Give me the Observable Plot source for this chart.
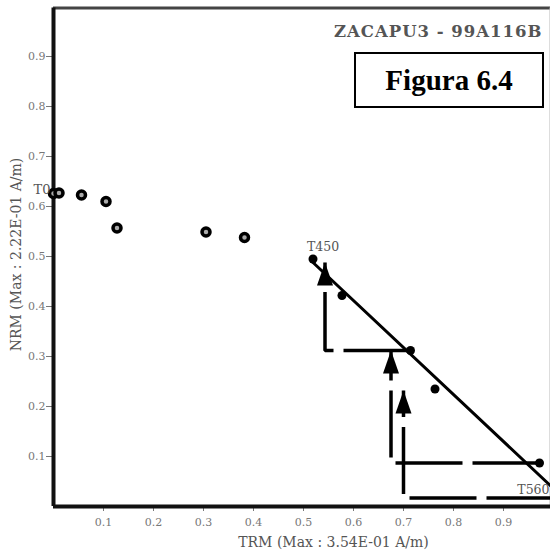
<!DOCTYPE html>
<html>
<head>
<meta charset="utf-8">
<script src="https://cdn.jsdelivr.net/npm/d3@7"></script>
<script src="https://cdn.jsdelivr.net/npm/@observablehq/plot@0.6"></script>
<style>
  html, body { margin: 0; padding: 0; background: #fff; }
  #wrap { position: relative; width: 550px; height: 554px; overflow: hidden; }
  #fig {
    position: absolute; left: 354px; top: 52px; width: 186px; height: 52px;
    border: 2px solid #000; background: #fff;
    display: flex; align-items: center; justify-content: center;
    font-family: "Liberation Serif", serif; font-weight: bold; font-size: 29px; color: #000;
  }
  .hdr text { letter-spacing: 1px; }
</style>
</head>
<body>
<div id="wrap"><div id="fig">Figura 6.4</div></div>
<script>
// Data (Arai plot)
const header = "ZACAPU3 - 99A116B";
const xTitle = "TRM (Max : 3.54E-01 A/m)";
const yTitle = "NRM (Max : 2.22E-01 A/m)";
const ticks = [0.1, 0.2, 0.3, 0.4, 0.5, 0.6, 0.7, 0.8, 0.9];

// Steps not used in the fit (ringed dots)
const trmOpen = [0.000, 0.011, 0.056, 0.105, 0.127, 0.305, 0.382];
const nrmOpen = [0.626, 0.627, 0.623, 0.610, 0.557, 0.549, 0.538];
// Steps used in the fit (solid dots)
const trmFill = [0.519, 0.577, 0.714, 0.763, 0.972];
const nrmFill = [0.495, 0.422, 0.312, 0.235, 0.087];
// Fitted line
const fitTRM = [0.519, 1.0];
const fitNRM = [0.488, 0.036];
// pTRM checks: from a step, across to the check TRM, up to the check NRM
const checkFromTRM = [0.714, 0.972, 1.000];
const checkFromNRM = [0.312, 0.087, 0.017];
const checkTRM     = [0.543, 0.675, 0.700];
const checkNRM     = [0.488, 0.312, 0.232];
// Step labels
const stepLabels = ["T0", "T450", "T560"];
const stepTRM = [0.000, 0.519, 1.000];
const stepNRM = [0.626, 0.495, 0.017];

const openPts = trmOpen.map((x, i) => ({x, y: nrmOpen[i]}));
const fillPts = trmFill.map((x, i) => ({x, y: nrmFill[i]}));
const fitPts = fitTRM.map((x, i) => ({x, y: fitNRM[i]}));
const checkPaths = checkTRM.flatMap((cx, i) => [
  {id: i, x: checkFromTRM[i], y: checkFromNRM[i]},
  {id: i, x: cx, y: checkFromNRM[i]},
  {id: i, x: cx, y: checkNRM[i]}
]);
const checkTips = checkTRM.map((x, i) => ({x, y: checkNRM[i]}));
const steps = stepLabels.map((t, i) => ({t, x: stepTRM[i], y: stepNRM[i]}));

// Arrowhead symbol: tip at the anchor, pointing up
const arrowHead = {
  draw(context, size) {
    const r = Math.sqrt(size / Math.PI);
    const w = 1.6 * r, h = 2.3 * r;
    context.moveTo(0, 0);
    context.lineTo(-w / 2, h);
    context.lineTo(w / 2, h);
    context.closePath();
  }
};

const serif = "DejaVu Serif, serif";

const chart = Plot.plot({
  width: 550,
  height: 554,
  marginLeft: 53,
  marginRight: 0,
  marginTop: 7.5,
  marginBottom: 48,
  style: {fontFamily: serif, background: "transparent", overflow: "visible"},
  x: {domain: [0, 0.994], ticks: ticks, tickSize: 5, tickPadding: 7, label: null},
  y: {domain: [0, 0.997], ticks: ticks, tickSize: 7, tickPadding: 1, label: null},
  marks: [
    Plot.axisX({ticks, tickSize: 5, tickPadding: 7, fontSize: 11, color: "#777", label: null}),
    Plot.axisY({ticks, tickSize: 7, tickPadding: 1, fontSize: 11, color: "#777", label: null}),
    Plot.ruleY([0.997], {stroke: "#444", strokeWidth: 3}),
    Plot.ruleX([0.994], {stroke: "#bbb", strokeWidth: 2}),
    Plot.ruleX([0], {stroke: "#111", strokeWidth: 4}),
    Plot.ruleY([0], {stroke: "#111", strokeWidth: 4}),
    Plot.line(fitPts, {x: "x", y: "y", stroke: "#000", strokeWidth: 3}),
    Plot.line(checkPaths, {x: "x", y: "y", z: "id", stroke: "#000", strokeWidth: 3.5,
      strokeDasharray: "67,10", strokeLinejoin: "miter", strokeLinecap: "butt"}),
    Plot.dot(checkTips, {x: "x", y: "y", r: 10, symbol: arrowHead, fill: "#000", stroke: "none"}),
    Plot.dot(openPts, {x: "x", y: "y", r: 4, fill: "#aaa", stroke: "#000", strokeWidth: 3.5}),
    Plot.dot(fillPts, {x: "x", y: "y", r: 4.5, fill: "#000", stroke: "none"}),
    Plot.text(steps.slice(0, 1), {x: "x", y: "y", text: "t", textAnchor: "end", dx: -3, dy: -4, fontSize: 13, fill: "#555"}),
    Plot.text(steps.slice(1, 2), {x: "x", y: "y", text: "t", textAnchor: "middle", dx: 10, dy: -12, fontSize: 12.5, fill: "#555"}),
    Plot.text(steps.slice(2, 3), {x: "x", y: "y", text: "t", textAnchor: "end", dx: -4, dy: -8, fontSize: 12.5, fill: "#555"}),
    Plot.text([header], {frameAnchor: "top-right", text: d => d, textAnchor: "end", lineAnchor: "middle",
      dx: -8, dy: 24, fontSize: 16.5, fontWeight: "bold", fill: "#555", className: "hdr"}),
    Plot.text([xTitle], {x: () => 0.56, frameAnchor: "bottom", text: d => d, textAnchor: "middle", lineAnchor: "middle",
      dy: 36, fontSize: 14, fill: "#555"}),
    Plot.text([yTitle], {y: () => 0.504, frameAnchor: "left", text: d => d, rotate: -90, textAnchor: "middle", lineAnchor: "middle",
      dx: -37, fontSize: 14, fill: "#555"})
  ]
});
document.getElementById("wrap").insertBefore(chart, document.getElementById("fig"));
</script>
</body>
</html>
